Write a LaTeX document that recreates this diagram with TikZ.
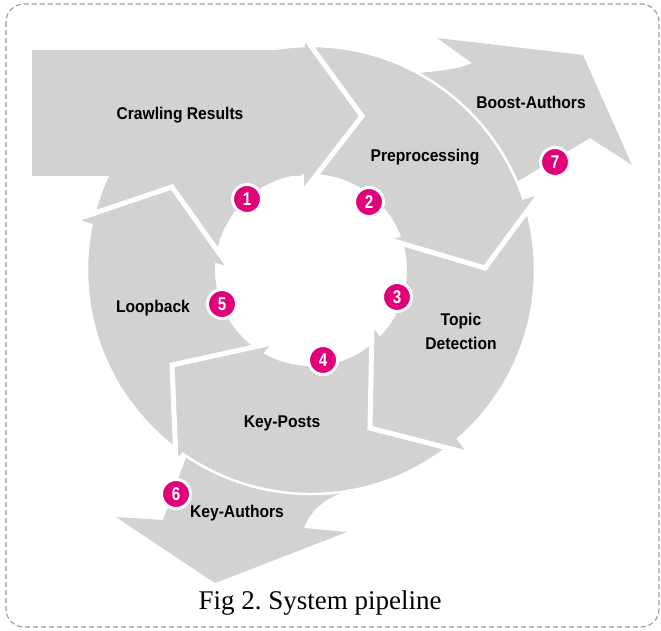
\documentclass[tikz,border=0pt]{standalone}
\usepackage{fontspec}
\setmainfont{Liberation Serif}
\newfontfamily\lblfont[FakeStretch=0.92]{Liberation Sans}
\newfontfamily\numfont[FakeStretch=0.82]{Liberation Sans}
\definecolor{segGray}{RGB}{210,210,210}
\definecolor{badgeMag}{RGB}{226,0,122}
\definecolor{frameGray}{RGB}{150,150,150}
\begin{document}
\frenchspacing
\begin{tikzpicture}[x=1pt,y=-1pt,
  seg/.style={fill=segGray},
  sep/.style={draw=white,line width=5pt,line join=miter,line cap=butt},
  lbl/.style={font=\lblfont\bfseries\fontsize{17}{24}\selectfont, text=black, align=center, inner sep=0pt},
  badge/.style={circle, fill=badgeMag, draw=white, line width=3pt, minimum size=29pt, inner sep=0pt, text=white, font=\numfont\bfseries\fontsize{18.5}{18.5}\selectfont},
  framebox/.style={draw=frameGray, line width=1.1pt, dash pattern=on 5pt off 3pt, rounded corners=18pt}
]
\useasboundingbox (0,0) rectangle (661,630);
\coordinate (c) at (311,270);

% output arrows (under the ring)
\fill[seg] (215,583) -- (347,532) -- (304,528) .. controls (312,506) and (332,492) .. (368,486) -- (380,460) -- (200,420) -- (187,455) -- (163,520) -- (116,517) -- cycle;
\fill[seg] (583,55) -- (632,165) -- (590,138) -- (495,195) -- (400,100) -- (405,75) .. controls (430,71) and (455,71) .. (472,63) -- (437,38) -- cycle;

% ring
\fill[seg,even odd rule] (c) circle (224pt) (c) circle (96pt);
\draw[white,line width=2.5pt] (c) circle (224pt);
% crawling results body
\fill[seg] (32,50) rectangle (301,176);

% arrow heads
\coordinate (h1o) at (305,38);  \coordinate (h1t) at (362,116); \coordinate (h1i) at (304,191);
\coordinate (h2i) at (390,240); \coordinate (h2t) at (485,268); \coordinate (h2o) at (539,195);
\coordinate (h3i) at (372,326); \coordinate (h3t) at (370,428); \coordinate (h3o) at (467,453);
\coordinate (h4i) at (272,343); \coordinate (h4t) at (172,365); \coordinate (h4o) at (176,460);
\coordinate (h5i) at (229,267); \coordinate (h5t) at (172,187); \coordinate (h5o) at (77,219);
\foreach \k in {1,...,5}{
  \fill[seg] (h\k o) -- (h\k t) -- (h\k i) -- cycle;
  \draw[sep] (h\k o) -- (h\k t) -- (h\k i);
}

% badges
\node[badge] (b1) at (247,199) {1};
\node[badge] (b2) at (369,202) {2};
\node[badge] (b3) at (397,297) {3};
\node[badge] (b4) at (323,360) {4};
\node[badge] (b5) at (222,304) {5};
\node[badge] (b6) at (176,494) {6};
\node[badge] (b7) at (555,162) {7};

% labels
\node[lbl] (crawl) at (180,115) {Crawling Results};
\node[lbl] (prep) at (425,157) {Preprocessing};
\node[lbl] (boost) at (531,102) {Boost-Authors};
\node[lbl] (loop) at (153,308) {Loopback};
\node[lbl] (topic) at (461,331) {Topic\\Detection};
\node[lbl] (kposts) at (282,423) {Key-Posts};
\node[lbl] (kauth) at (237,513) {Key-Authors};

% frame and caption
\draw[framebox] (6,4) rectangle (659,627);
\node[font=\fontsize{27}{30}\selectfont, inner sep=0pt] (cap) at (320,603) {Fig 2. System pipeline};
\end{tikzpicture}
\end{document}
